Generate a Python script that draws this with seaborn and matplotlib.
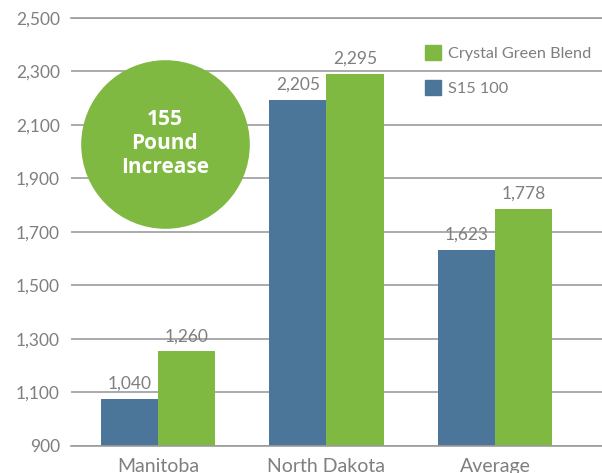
import pandas as pd
import matplotlib.pyplot as plt
import seaborn as sns
from matplotlib.patches import Patch

# --- DATA ---
regions = ["Manitoba", "North Dakota", "Average"]
series = ["S15 100", "Crystal Green Blend"]
s15_values = [1075, 2193, 1632]
green_values = [1254, 2291, 1786]
s15_labels = ["1,040", "2,205", "1,623"]
green_labels = ["1,260", "2,295", "1,778"]
y_ticks = [900, 1100, 1300, 1500, 1700, 1900, 2100, 2300, 2500]
badge_text = "155\nPound\nIncrease"

BLUE = "#4b7599"
GREEN = "#80b942"
GREY_TEXT = "#7f7f7f"
GRID = "#9c9c9c"

df = pd.DataFrame({
    "region": regions * 2,
    "series": [series[0]] * 3 + [series[1]] * 3,
    "value": s15_values + green_values,
})

sns.set_style("white")
plt.rcParams["font.family"] = ["Lato", "DejaVu Sans"]

W, H = 602, 473
fig = plt.figure(figsize=(W / 100, H / 100), dpi=100)
ax = fig.add_axes([71 / W, 1 - 445.7 / H, 1 - 71 / W, (445.7 - 18) / H])

sns.barplot(data=df, x="region", y="value", hue="series", order=regions,
            hue_order=series, palette=[BLUE, GREEN], width=0.677,
            saturation=1, linewidth=0, legend=False, ax=ax)

ax.set_ylim(900, 2500)
ax.set_xlim(-0.516, 2.635)
ax.set_yticks(y_ticks)
ax.set_yticklabels([f"{v:,}" for v in y_ticks])
ax.set_xlabel("")
ax.set_ylabel("")
ax.set_axisbelow(True)
ax.grid(axis="y", color=GRID, lw=1.2)
ax.tick_params(axis="y", length=0, labelsize=12.5, colors=GREY_TEXT, pad=8)
ax.tick_params(axis="x", length=0, labelsize=14, colors=GREY_TEXT, pad=9)
for side in ["left", "right"]:
    ax.spines[side].set_visible(False)
for side in ["top", "bottom"]:
    ax.spines[side].set_color(GRID)
    ax.spines[side].set_linewidth(1.2)

# value labels
for container, labels in zip(ax.containers, [s15_labels, green_labels]):
    ax.bar_label(container, labels=labels, padding=5, fontsize=12.5, color=GREY_TEXT)

# green badge
ax.scatter([0.04], [2030], s=14740, color=GREEN, clip_on=False, zorder=5, linewidths=0)
ax.text(0.04, 2030, badge_text, ha="center", va="center", color="white",
        fontsize=15, fontweight="bold", linespacing=1.2, zorder=6,
        family=["Open Sans", "DejaVu Sans"])

# legend
handles = [Patch(color=GREEN, label=series[1]), Patch(color=BLUE, label=series[0])]
leg = fig.legend(handles=handles, loc="upper left", bbox_to_anchor=(425 / W, 1 - 45 / H),
                 frameon=False, fontsize=11.7, borderpad=0, borderaxespad=0,
                 handlelength=1.0, handleheight=1.0, handletextpad=0.42,
                 labelspacing=1.2)
for t in leg.get_texts():
    t.set_color(GREY_TEXT)

fig.savefig("out.png", dpi=100)
